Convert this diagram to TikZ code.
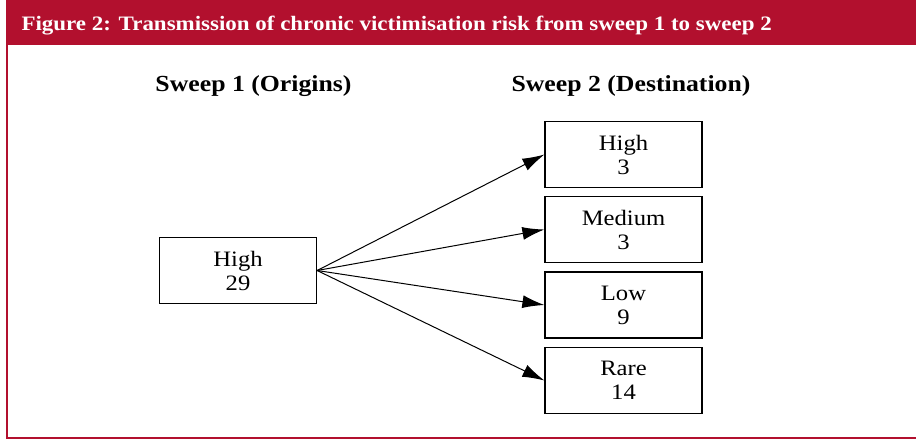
\documentclass[tikz,border=0pt]{standalone}
\usepackage{fontspec}
\setmainfont[FakeStretch = 1.12]{Liberation Serif}
\usetikzlibrary{arrows.meta}

\definecolor{figred}{RGB}{178,16,46}

\tikzset{
	riskbox/.style = {draw, line width = 1.2pt, minimum width = 157pt, minimum height = 66pt,
		inner sep = 0pt, align = center, font = \fontsize{22}{24}\selectfont},
	flow/.style = {->, line width = 1pt},
	colhead/.style = {font = \fontsize{23}{26}\selectfont\bfseries}
}

\begin{document}
\begin{tikzpicture}[x = 1pt, y = -1pt, > = {Latex[length = 22pt, width = 13pt]}]

	\useasboundingbox (0, 0) rectangle (916, 442);

	% Frame
	
	\fill [figred] (6, 0) rectangle (916, 45);
	\draw [figred, line width = 2pt] (7, 45) -- (7, 438) -- (916, 438);
	\node [anchor = base west, text = white, font = \fontsize{20.5}{24}\selectfont\bfseries] (title) at (18, 30)
		{Figure 2: Transmission of chronic victimisation risk from sweep 1 to sweep 2};
	
	% Column headings
	
	\node [colhead] (head1) at (253.5, 86) {Sweep 1 (Origins)};
	\node [colhead] (head2) at (631, 86) {Sweep 2 (Destination)};
	
	% Origin
	
	\node [riskbox] (origin) at (238, 270.5) {High\\29};
	
	% Destinations
	
	\node [riskbox] (high) at (623.5, 154.5) {High\\3};
	\node [riskbox] (medium) at (623.5, 229.5) {Medium\\3};
	\node [riskbox] (low) at (623.5, 305) {Low\\9};
	\node [riskbox] (rare) at (623.5, 380.5) {Rare\\14};
	
	% Transitions
	
	\foreach \dest in {high, medium, low, rare}
		\draw [flow] (origin.east) -- (\dest.west);

\end{tikzpicture}
\end{document}
